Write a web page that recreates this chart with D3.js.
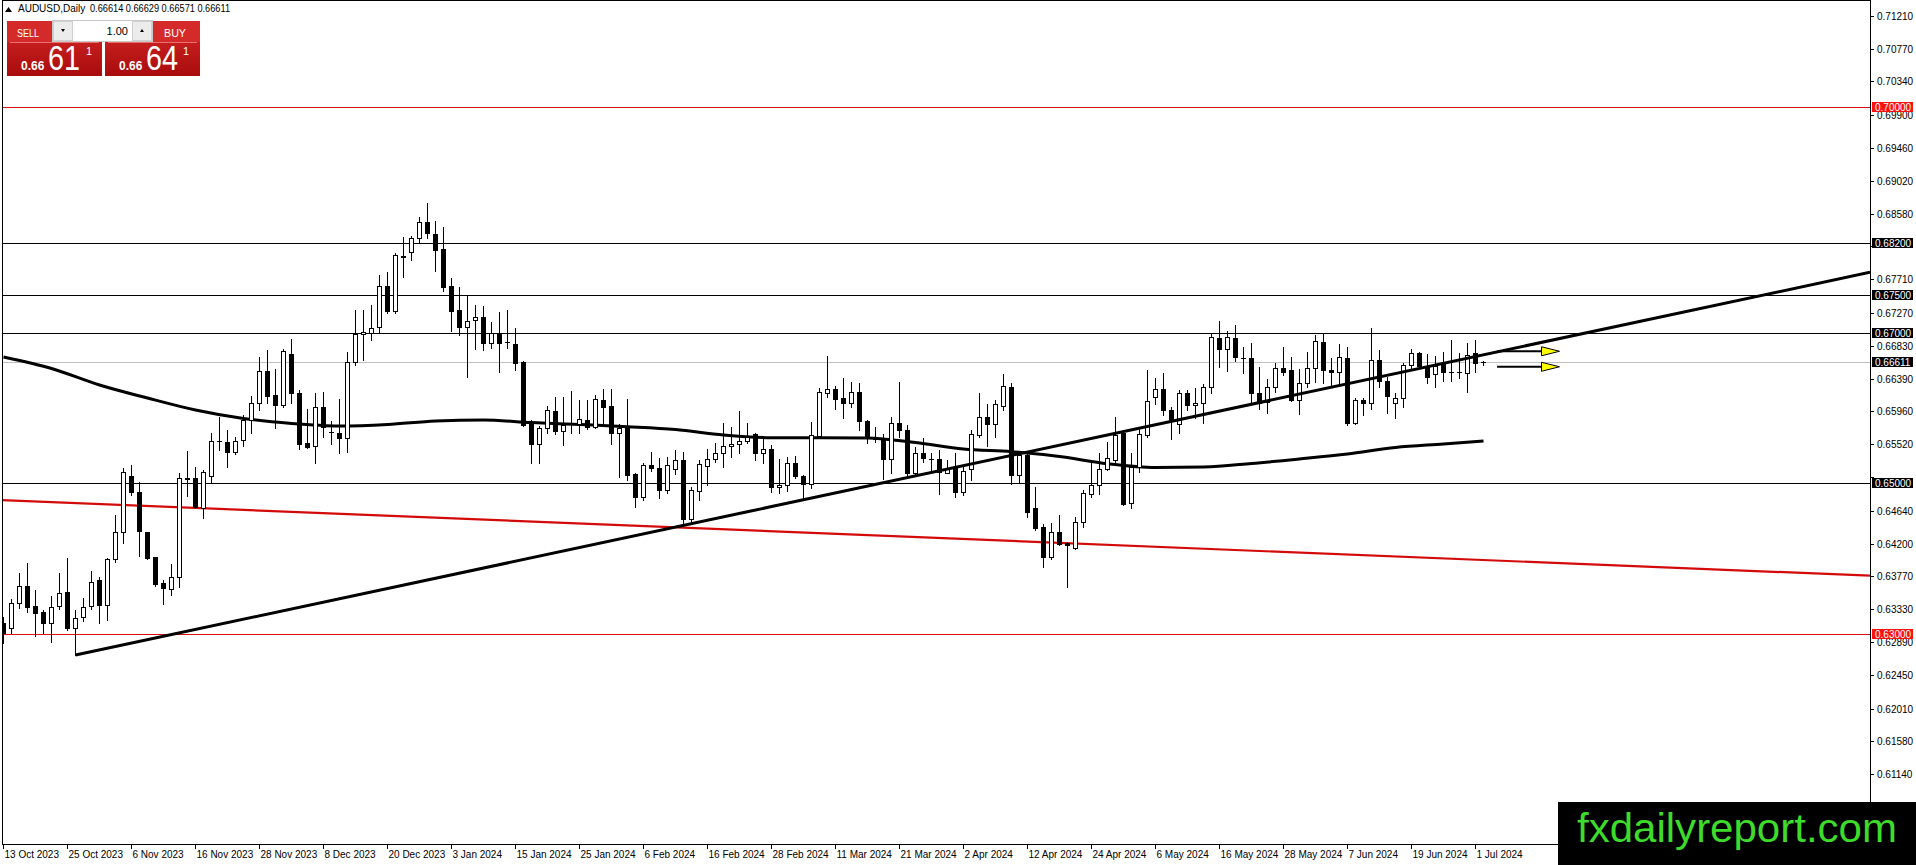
<!DOCTYPE html>
<html>
<head>
<meta charset="utf-8">
<script src="https://cdn.jsdelivr.net/npm/d3@7/dist/d3.min.js"></script>
<style>
body{margin:0;background:#fff;overflow:hidden}
svg{display:block}
text{font-family:"Liberation Sans",Arial,sans-serif}
</style>
</head>
<body>
<svg id="chart" width="1916" height="865"></svg>
<script>
// AUDUSD daily candles, 13 Oct 2023 .. 2 Jul 2024
var dateLabels = ["13 Oct 2023","25 Oct 2023","6 Nov 2023","16 Nov 2023","28 Nov 2023","8 Dec 2023",
  "20 Dec 2023","3 Jan 2024","15 Jan 2024","25 Jan 2024","6 Feb 2024","16 Feb 2024","28 Feb 2024",
  "11 Mar 2024","21 Mar 2024","2 Apr 2024","12 Apr 2024","24 Apr 2024","6 May 2024","16 May 2024",
  "28 May 2024","7 Jun 2024","19 Jun 2024","1 Jul 2024"];
var labelEvery = 8;

var opens = [0.63142,0.63076,0.63408,0.63641,0.63372,0.63288,0.63142,0.63372,0.63553,0.63084,
0.63222,0.63372,0.63717,0.63385,0.63992,0.64350,0.65099,0.64891,0.64350,0.64019,
0.63673,0.63593,0.63761,0.65077,0.65077,0.64669,0.65099,0.65562,0.65555,0.65422,
0.65577,0.65843,0.66065,0.66494,0.66175,0.66042,0.66720,0.66202,0.65533,0.65497,
0.66012,0.65684,0.65666,0.65604,0.66618,0.66986,0.67003,0.67075,0.67627,0.67296,
0.68016,0.68071,0.68257,0.68469,0.68314,0.68111,0.67623,0.67305,0.67075,0.67172,
0.67207,0.66862,0.66995,0.66877,0.66853,0.66618,0.65820,0.65520,0.65732,0.65963,
0.65701,0.65787,0.65790,0.65843,0.65754,0.66109,0.66029,0.65666,0.65746,0.65126,
0.64824,0.65245,0.65201,0.64913,0.65188,0.65311,0.64523,0.64904,0.65236,0.65320,
0.65400,0.65497,0.65520,0.65568,0.65657,0.65400,0.65453,0.64949,0.64980,0.65267,
0.65103,0.64993,0.65634,0.66198,0.66251,0.66132,0.66065,0.66219,0.65830,0.65599,
0.65577,0.65320,0.65807,0.65710,0.65143,0.65400,0.65331,0.65320,0.65143,0.65223,
0.64891,0.65188,0.65644,0.65879,0.65790,0.66033,0.66278,0.65112,0.65378,0.64669,
0.64417,0.64019,0.64350,0.64205,0.64138,0.64492,0.64860,0.64980,0.65188,0.65311,
0.65666,0.64736,0.65223,0.65644,0.66145,0.66251,0.65976,0.65786,0.66198,0.66042,
0.66073,0.66278,0.66929,0.66782,0.66929,0.66665,0.66663,0.66198,0.66087,0.66278,
0.66530,0.66507,0.66109,0.66331,0.66530,0.66884,0.66507,0.66477,0.66663,0.65799,
0.66109,0.66065,0.66640,0.66365,0.66065,0.66132,0.66574,0.66729,0.66561,0.66451,
0.66604,0.66478,0.66476,0.66463,0.66729,0.66614];

var highs = [0.63230,0.63461,0.63806,0.63939,0.63584,0.63319,0.63505,0.63806,0.64005,0.63319,
0.63474,0.63841,0.63761,0.64005,0.64581,0.65201,0.65245,0.65023,0.64350,0.64019,
0.63717,0.63926,0.65135,0.65435,0.65223,0.65179,0.65666,0.65887,0.65710,0.65622,
0.65910,0.66162,0.66684,0.66773,0.66521,0.66786,0.66919,0.66242,0.65990,0.66206,
0.66219,0.65834,0.66122,0.66743,0.67305,0.67305,0.67371,0.67770,0.67813,0.68066,
0.68271,0.68288,0.68536,0.68722,0.68487,0.68412,0.67726,0.67614,0.67504,0.67371,
0.67358,0.67149,0.67282,0.67305,0.67070,0.66625,0.65843,0.65763,0.66029,0.66153,
0.66145,0.66233,0.66109,0.66109,0.66175,0.66251,0.66251,0.65790,0.66122,0.65140,
0.65276,0.65413,0.65334,0.65355,0.65444,0.65413,0.64957,0.65311,0.65453,0.65533,
0.65799,0.65754,0.65963,0.65807,0.65674,0.65600,0.65511,0.65320,0.65355,0.65364,
0.65112,0.65820,0.66264,0.66693,0.66295,0.66397,0.66352,0.66331,0.65840,0.65746,
0.65652,0.65879,0.66352,0.65777,0.65488,0.65600,0.65408,0.65444,0.65311,0.65400,
0.65245,0.65710,0.66198,0.66056,0.66109,0.66454,0.66339,0.65422,0.65385,0.64949,
0.64461,0.64470,0.64581,0.64226,0.64558,0.64913,0.65267,0.65400,0.65555,0.65879,
0.65710,0.65408,0.65732,0.66507,0.66397,0.66463,0.66020,0.66242,0.66242,0.66264,
0.66322,0.66986,0.67159,0.67030,0.67105,0.66817,0.66870,0.66544,0.66384,0.66604,
0.66809,0.66676,0.66517,0.66750,0.66972,0.66986,0.66663,0.66853,0.66817,0.66132,
0.66132,0.67062,0.66773,0.66419,0.66198,0.66596,0.66782,0.66750,0.66720,0.66693,
0.66750,0.66906,0.66737,0.66870,0.66906,0.66629];

var lows = [0.62876,0.63009,0.63342,0.63296,0.62973,0.63009,0.62897,0.63328,0.63053,0.62721,
0.63177,0.63328,0.63150,0.63186,0.63960,0.64205,0.64847,0.64036,0.63992,0.63637,
0.63399,0.63518,0.63619,0.64833,0.64669,0.64537,0.65023,0.65444,0.65223,0.65391,
0.65497,0.65674,0.65976,0.66069,0.65737,0.66016,0.66069,0.65453,0.65477,0.65267,
0.65622,0.65524,0.65408,0.65422,0.66574,0.66640,0.66906,0.66995,0.67261,0.67261,
0.67747,0.67969,0.68191,0.68257,0.67827,0.67561,0.67030,0.66972,0.66419,0.66782,
0.66773,0.66796,0.66485,0.66796,0.66507,0.65763,0.65267,0.65267,0.65666,0.65657,
0.65511,0.65674,0.65666,0.65719,0.65733,0.65763,0.65524,0.65090,0.65046,0.64691,
0.64780,0.65169,0.64803,0.64877,0.65126,0.64470,0.64478,0.64780,0.64980,0.65289,
0.65223,0.65355,0.65408,0.65533,0.65311,0.65267,0.64891,0.64877,0.64904,0.65069,
0.64789,0.64935,0.65613,0.66145,0.65985,0.65866,0.66012,0.65710,0.65533,0.65555,
0.65055,0.65143,0.65613,0.65112,0.65112,0.65289,0.65179,0.64860,0.65135,0.64816,
0.64847,0.65046,0.65613,0.65497,0.65613,0.65976,0.64993,0.65023,0.64558,0.64381,
0.63894,0.63992,0.64182,0.63628,0.64125,0.64417,0.64824,0.64860,0.65179,0.65267,
0.64714,0.64669,0.65156,0.65622,0.66056,0.65910,0.65586,0.65666,0.65976,0.65866,
0.65807,0.66206,0.66551,0.66498,0.66631,0.66471,0.66087,0.65985,0.65932,0.66219,
0.66437,0.66100,0.65923,0.66278,0.66352,0.66331,0.66308,0.66339,0.65777,0.65790,
0.65910,0.65985,0.66278,0.65932,0.65866,0.66012,0.66517,0.66530,0.66331,0.66278,
0.66365,0.66365,0.66397,0.66219,0.66485,0.66571];

var closes = [0.63009,0.63408,0.63641,0.63355,0.63283,0.63142,0.63363,0.63548,0.63084,0.63217,
0.63355,0.63694,0.63385,0.63996,0.64350,0.65148,0.64891,0.64368,0.64014,0.63660,
0.63606,0.63761,0.65077,0.65063,0.64691,0.65148,0.65568,0.65558,0.65422,0.65568,
0.65843,0.66065,0.66494,0.66162,0.66042,0.66759,0.66198,0.65524,0.65488,0.66020,
0.65754,0.65680,0.65600,0.66618,0.66986,0.67016,0.67062,0.67627,0.67296,0.68031,
0.68010,0.68257,0.68469,0.68323,0.68102,0.67614,0.67296,0.67075,0.67163,0.67207,
0.66870,0.67003,0.66870,0.66873,0.66604,0.65777,0.65520,0.65732,0.65976,0.65697,
0.65777,0.65792,0.65852,0.65746,0.66122,0.66020,0.65674,0.65733,0.65112,0.64824,
0.65245,0.65209,0.64913,0.65245,0.65311,0.64523,0.64913,0.65258,0.65324,0.65400,
0.65497,0.65524,0.65568,0.65613,0.65400,0.65453,0.64949,0.64980,0.65267,0.65099,
0.64993,0.65644,0.66219,0.66251,0.66118,0.66065,0.66219,0.65830,0.65622,0.65595,
0.65320,0.65807,0.65710,0.65143,0.65400,0.65334,0.65326,0.65156,0.65201,0.64891,
0.65169,0.65652,0.65879,0.65790,0.66056,0.66295,0.65112,0.65378,0.64625,0.64403,
0.64019,0.64350,0.64195,0.64182,0.64492,0.64869,0.64980,0.65188,0.65334,0.65644,
0.64727,0.65223,0.65652,0.66100,0.66251,0.65976,0.65830,0.66198,0.66042,0.66073,
0.66278,0.66942,0.66782,0.66942,0.66676,0.66660,0.66198,0.66073,0.66278,0.66530,
0.66485,0.66109,0.66331,0.66530,0.66897,0.66507,0.66477,0.66676,0.65799,0.66109,
0.66065,0.66640,0.66365,0.66162,0.66132,0.66574,0.66729,0.66561,0.66411,0.66561,
0.66477,0.66476,0.66478,0.66707,0.66604,0.66611];

// moving average read at every 6th bar
var maBars = [0,6,12,18,24,30,36,42,48,54,60,66,72,78,84,90,96,102,108,114,120,126,132,138,144,150,156,162,168,174,180,185];
var maValues = [0.66680,0.66527,0.66308,0.66135,0.65976,0.65863,0.65796,0.65763,0.65783,0.65829,
0.65843,0.65809,0.65783,0.65754,0.65716,0.65643,0.65608,0.65608,0.65604,0.65544,0.65457,0.65422,
0.65358,0.65262,0.65212,0.65218,0.65265,0.65325,0.65391,0.65477,0.65524,0.65564];

var priceTicks = [0.71210,0.70770,0.70340,0.69900,0.69460,0.69020,0.68580,0.68150,0.67710,0.67270,
0.66830,0.66390,0.65960,0.65520,0.65080,0.64640,0.64200,0.63770,0.63330,0.62890,0.62450,0.62010,
0.61580,0.61140];

// horizontal levels
var levelPrices = [0.70000,0.68200,0.67500,0.67000,0.65000,0.63000];
var redLevels = [0.70000,0.63000];
var bidPrice = 0.66611;

// trend lines: [bar, price] anchor pairs
var supportLine = [[9,0.62721],[184,0.66687]];
var redTrendLine = [[0,0.64778],[200,0.63918]];

// yellow arrows: start bar, tip bar, price
var arrowStartBar = [186.7,186.7];
var arrowTipBar = [194.5,194.5];
var arrowPrices = [0.66756,0.66550];

var symbolText = "AUDUSD,Daily";
var ohlcText = "0.66614 0.66629 0.66571 0.66611";

// ---------------------------------------------------------------
var plotR = 1870, plotB = 844;
var svg = d3.select("#chart");

var x = d3.scaleLinear().domain([0, 233]).range([3.5, 3.5 + 8 * 233]);
var y = d3.scaleLinear().domain([0.71210, 0.61140]).range([16, 774]);
function ry(p){ return Math.round(y(p)); }
function isRed(p){ return redLevels.indexOf(p) >= 0; }

var defs = svg.append("defs");
defs.append("clipPath").attr("id","plot")
  .append("rect").attr("x",2).attr("y",0).attr("width",plotR-2).attr("height",plotB);

var plot = svg.append("g").attr("clip-path","url(#plot)");

// level lines
plot.selectAll("line.level").data(levelPrices).enter().append("line")
  .attr("class","level")
  .attr("x1",0).attr("x2",plotR)
  .attr("y1",function(d){return ry(d)+0.5;}).attr("y2",function(d){return ry(d)+0.5;})
  .attr("stroke",function(d){return isRed(d) ? "#d81010" : "#000";})
  .attr("stroke-width",1);

plot.append("line").attr("x1",0).attr("x2",plotR)
  .attr("y1",ry(bidPrice)+0.5).attr("y2",ry(bidPrice)+0.5)
  .attr("stroke","#c0c0c0").attr("stroke-width",1);

// red falling trend line
function lineAt(pts, b){
  var s = (pts[1][1]-pts[0][1])/(pts[1][0]-pts[0][0]);
  return pts[0][1] + s*(b-pts[0][0]);
}
var rb0 = x.invert(0), rb1 = x.invert(plotR);
plot.append("line")
  .attr("x1",x(rb0)).attr("y1",y(lineAt(redTrendLine,rb0)))
  .attr("x2",x(rb1)).attr("y2",y(lineAt(redTrendLine,rb1)))
  .attr("stroke","#d40a0a").attr("stroke-width",2.2);

// moving average
var maLine = d3.line().x(function(d){return x(d[0]);}).y(function(d){return y(d[1]);})
  .curve(d3.curveMonotoneX);
plot.append("path").datum(d3.zip(maBars, maValues))
  .attr("d",maLine).attr("fill","none").attr("stroke","#000").attr("stroke-width",3);

// candles
var idx = d3.range(opens.length);
var candle = plot.append("g").selectAll("g").data(idx).enter().append("g");
candle.append("line")
  .attr("x1",function(i){return x(i);}).attr("x2",function(i){return x(i);})
  .attr("y1",function(i){return ry(highs[i]);}).attr("y2",function(i){return ry(lows[i])+1;})
  .attr("stroke","#000").attr("stroke-width",1);
candle.each(function(i){
  var g = d3.select(this);
  var top = ry(Math.max(opens[i],closes[i])), bot = ry(Math.min(opens[i],closes[i]));
  var h = bot - top;
  if (h < 1) {
    g.append("rect").attr("x",x(i)-2.5).attr("y",top).attr("width",5).attr("height",1).attr("fill","#000");
  } else if (closes[i] >= opens[i]) {
    g.append("rect").attr("x",x(i)-2).attr("y",top+0.5).attr("width",4).attr("height",h)
      .attr("fill","#fff").attr("stroke","#000").attr("stroke-width",1);
  } else {
    g.append("rect").attr("x",x(i)-2.5).attr("y",top).attr("width",5).attr("height",h+1).attr("fill","#000");
  }
});

// support trend line (ray to the right)
var sb1 = x.invert(plotR);
plot.append("line")
  .attr("x1",x(supportLine[0][0])).attr("y1",y(supportLine[0][1]))
  .attr("x2",x(sb1)).attr("y2",y(lineAt(supportLine,sb1)))
  .attr("stroke","#000").attr("stroke-width",3);

// arrows
arrowPrices.forEach(function(p,k){
  var yy = y(p), x0 = x(arrowStartBar[k]), x1 = x(arrowTipBar[k]);
  plot.append("line").attr("x1",x0).attr("x2",x1-16).attr("y1",yy).attr("y2",yy)
    .attr("stroke","#000").attr("stroke-width",2);
  plot.append("path")
    .attr("d","M"+(x1-18)+","+(yy-4.5)+"L"+x1+","+yy+"L"+(x1-18)+","+(yy+4.5)+"Z")
    .attr("fill","#ffff00").attr("stroke","#000").attr("stroke-width",1);
});

// frame
svg.append("line").attr("x1",2.5).attr("x2",2.5).attr("y1",0).attr("y2",plotB).attr("stroke","#000");
svg.append("line").attr("x1",2).attr("x2",plotR).attr("y1",0.5).attr("y2",0.5).attr("stroke","#000");
svg.append("line").attr("x1",plotR+0.5).attr("x2",plotR+0.5).attr("y1",0).attr("y2",plotB+1).attr("stroke","#000");
svg.append("line").attr("x1",2).attr("x2",plotR+1).attr("y1",plotB+0.5).attr("y2",plotB+0.5).attr("stroke","#000");

// price axis (tick labels fully hidden under a level box are left out)
var boxes = levelPrices.concat([bidPrice]);
var visibleTicks = priceTicks.filter(function(t){
  return !boxes.some(function(b){ return Math.abs(ry(b)-ry(t)) < 7; });
});
var pa = svg.append("g");
pa.selectAll("line").data(priceTicks).enter().append("line")
  .attr("x1",plotR+1).attr("x2",plotR+4)
  .attr("y1",function(d){return ry(d)+0.5;}).attr("y2",function(d){return ry(d)+0.5;})
  .attr("stroke","#000");
pa.selectAll("text").data(visibleTicks).enter().append("text")
  .attr("x",plotR+7).attr("y",function(d){return ry(d)+4;})
  .attr("font-size","10px").attr("fill","#000")
  .text(function(d){return d.toFixed(5);});

// level price boxes
var bx = svg.append("g").selectAll("g").data(boxes).enter().append("g");
bx.append("rect").attr("x",plotR+2).attr("y",function(d){return ry(d)-5;})
  .attr("width",41).attr("height",10)
  .attr("fill",function(d){return isRed(d) ? "#ff1010" : "#000";});
bx.append("text").attr("x",plotR+5).attr("y",function(d){return ry(d)+3.5;})
  .attr("font-size","10px").attr("fill","#fff").text(function(d){return d.toFixed(5);});

// time axis
var ta = svg.append("g");
var tickBars = dateLabels.map(function(d,k){return k*labelEvery;});
ta.selectAll("line").data(tickBars).enter().append("line")
  .attr("x1",function(b){return Math.floor(x(b))+0.5;}).attr("x2",function(b){return Math.floor(x(b))+0.5;})
  .attr("y1",plotB+1).attr("y2",plotB+5).attr("stroke","#000");
ta.selectAll("text").data(dateLabels).enter().append("text")
  .attr("x",function(d,k){return x(tickBars[k])+1;}).attr("y",plotB+14)
  .attr("font-size","10px").attr("fill","#000").text(function(d){return d;});

// header
svg.append("path").attr("d","M5,12L8.5,7L12,12Z").attr("fill","#000");
svg.append("text").attr("x",18).attr("y",12).attr("font-size","10px").attr("fill","#000").text(symbolText);
svg.append("text").attr("x",90).attr("y",12).attr("font-size","10px").attr("fill","#000")
  .attr("textLength",140).attr("lengthAdjust","spacingAndGlyphs").text(ohlcText);

// one-click trading panel
var grad = defs.append("linearGradient").attr("id","redg").attr("x1",0).attr("x2",0).attr("y1",0).attr("y2",1);
grad.append("stop").attr("offset","0").attr("stop-color","#d8282a");
grad.append("stop").attr("offset","1").attr("stop-color","#a80c0c");
var panel = svg.append("g");
[[7,"SELL",17,"61",21,48,86],[105,"BUY",164,"64",119,146,183]].forEach(function(p){
  panel.append("rect").attr("x",p[0]).attr("y",21).attr("width",95).attr("height",55).attr("fill","url(#redg)");
  panel.append("rect").attr("x",p[0]).attr("y",21).attr("width",95).attr("height",21).attr("fill","#d42a2a");
  panel.append("line").attr("x1",p[0]+3).attr("x2",p[0]+92).attr("y1",42.5).attr("y2",42.5).attr("stroke","#e87070");
  panel.append("text").attr("x",p[2]).attr("y",37).attr("font-size","11px").attr("fill","#fff")
    .attr("textLength",22).attr("lengthAdjust","spacingAndGlyphs").text(p[1]);
  panel.append("text").attr("x",p[4]).attr("y",70).attr("font-size","12px").attr("font-weight","bold").attr("fill","#fff").text("0.66");
  panel.append("text").attr("transform","translate("+p[5]+",70) scale(0.8,1)")
    .attr("font-size","36px").attr("fill","#fff").text(p[3]);
  panel.append("text").attr("x",p[6]).attr("y",55).attr("font-size","11px").attr("fill","#fff").text("1");
});
panel.append("rect").attr("x",52.5).attr("y",20.5).attr("width",100).attr("height",21).attr("fill","#fff").attr("stroke","#c8c8c8");
panel.append("rect").attr("x",53.5).attr("y",21.5).attr("width",19).attr("height",19).attr("fill","#ececec").attr("stroke","#d0d0d0");
panel.append("rect").attr("x",132.5).attr("y",21.5).attr("width",19).attr("height",19).attr("fill","#ececec").attr("stroke","#d0d0d0");
panel.append("path").attr("d","M61,29L65,29L63,32Z").attr("fill","#000");
panel.append("path").attr("d","M140,32L144,32L142,29Z").attr("fill","#000");
panel.append("text").attr("x",128).attr("y",35).attr("text-anchor","end").attr("font-size","11px").attr("fill","#000").text("1.00");

// watermark
svg.append("rect").attr("x",1558).attr("y",802).attr("width",358).attr("height",63).attr("fill","#000");
svg.append("text").attr("x",1577).attr("y",842).attr("font-size","40px").attr("fill","#3ddc2a")
  .attr("textLength",320).attr("lengthAdjust","spacingAndGlyphs").text("fxdailyreport.com");
</script>
</body>
</html>
